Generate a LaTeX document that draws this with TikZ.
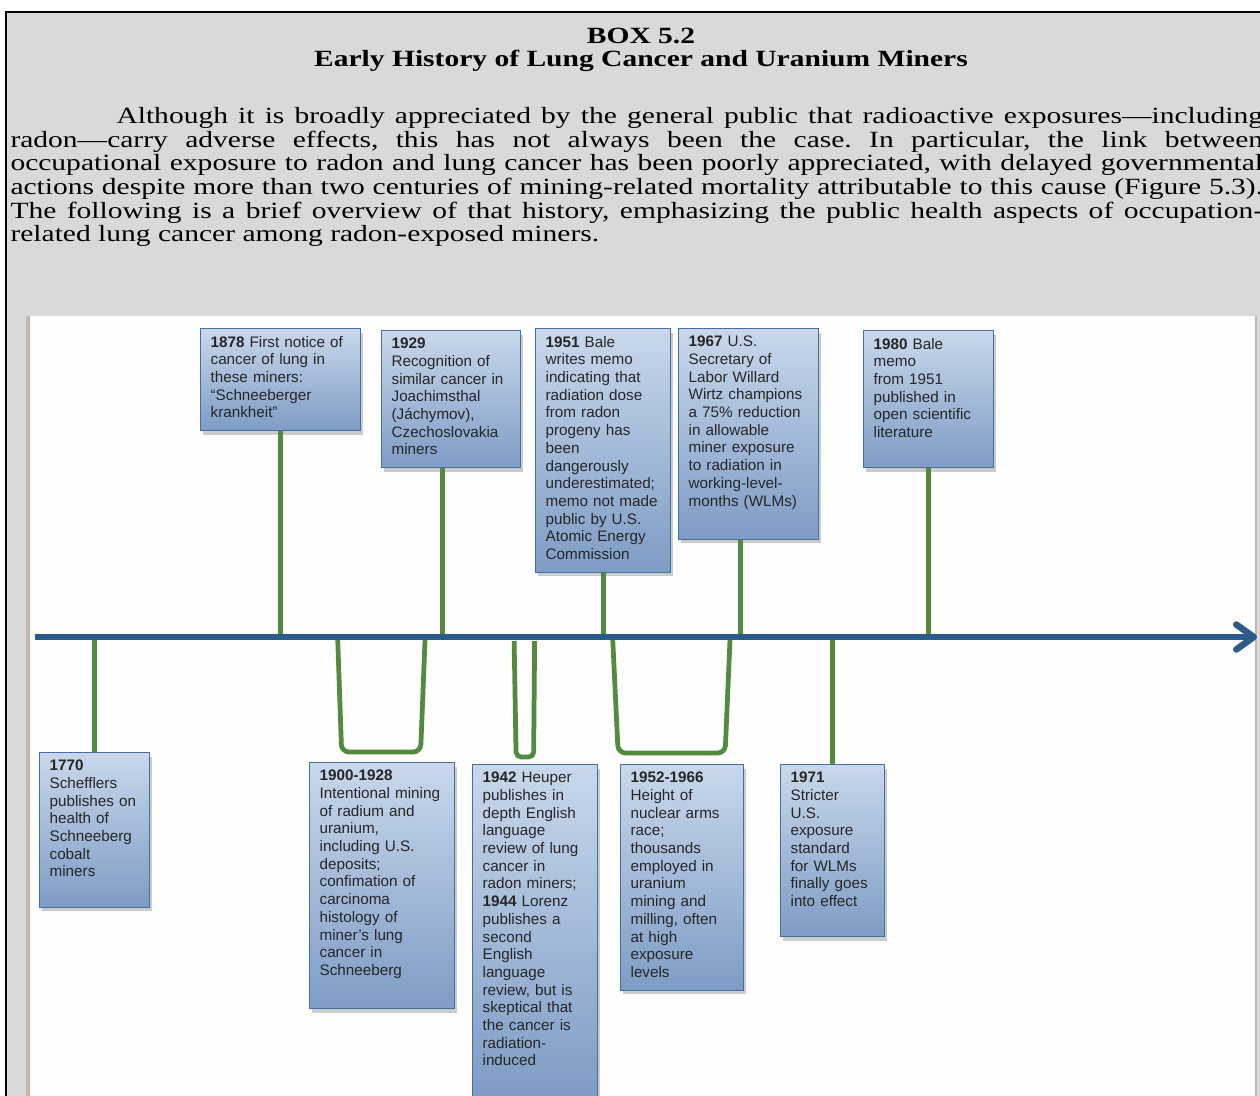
\documentclass[tikz,border=0pt]{standalone}
\usepackage{fontspec}
\setmainfont{Liberation Serif}[FakeStretch=1.27]
\newfontfamily\evtfont{Liberation Sans}[WordSpace=0.6]
\usepackage{tikz}
\usetikzlibrary{arrows.meta,calc,shadows}
\definecolor{boxgray}{HTML}{D9D9D9}
\definecolor{panelwhite}{HTML}{FDFDFD}
\definecolor{paneledge}{HTML}{C4B8AC}
\definecolor{axisblue}{HTML}{2A5B8A}
\definecolor{stemgreen}{HTML}{528A3E}
\definecolor{evttop}{HTML}{C9D8EC}
\definecolor{evtbot}{HTML}{7E9CC5}
\definecolor{evtline}{HTML}{44709F}
\frenchspacing

\tikzset{
  ttl/.style={font=\fontsize{9.3pt}{10pt}\selectfont\bfseries, anchor=base},
  intro/.style={anchor=north west, inner sep=0pt, text width=501pt, align=justify,
    font=\fontsize{9.3pt}{9.44pt}\selectfont},
  evt/.style={draw=evtline, line width=0.5pt, top color=evttop, bottom color=evtbot,
    anchor=north west, inner xsep=4pt, inner ysep=3pt, align=left, text=black!85,
    font=\evtfont\fontsize{6.1pt}{7.08pt}\selectfont,
    execute at end node={\par\vskip#1\hrule height 0pt},
    drop shadow={shadow xshift=0.8pt, shadow yshift=-1.6pt, opacity=0.4}},
  evt/.default=2pt,
  stem/.style={draw=stemgreen, line width=1.9pt},
  axis/.style={draw=axisblue, line width=2.6pt, -{Straight Barb[length=7pt,width=10pt,round]}}
}

\begin{document}
\begin{tikzpicture}[x=0.4pt,y=-0.4pt]
  % Page and box
  \clip (0,0) rectangle (1260,1095);
  \fill[white] (0,0) rectangle (1260,1095);
  \draw[fill=boxgray, line width=0.9pt] (6,12) rectangle (1272,1120);
  % Heading
  \node[ttl] (boxno) at (641,43) {BOX 5.2};
  \node[ttl] (boxtitle) at (641,66) {Early History of Lung Cancer and Uranium Miners};
  % Introduction
  \node[intro] (intro) at (10,107) {\hspace*{42.4pt}Although it is broadly appreciated by the general public that radioactive exposures—including\linebreak
    radon—carry adverse effects, this has not always been the case. In particular, the link between\linebreak
    occupational exposure to radon and lung cancer has been poorly appreciated, with delayed governmental\linebreak
    actions despite more than two centuries of mining-related mortality attributable to this cause (Figure 5.3).\linebreak
    The following is a brief overview of that history, emphasizing the public health aspects of occupation-\linebreak
    related lung cancer among radon-exposed miners.};
  % Figure panel
  \fill[panelwhite] (26,316) rectangle (1256,1120);
  \fill[paneledge] (26,316) rectangle (29.5,1120);
  \draw[gray!55, line width=0.6pt] (1256,316) -- (1256,1120);
  \coordinate (axL) at (35,637);
  \coordinate (axR) at (1257,637);

  % Events above the axis
  \node[evt, text width=56pt] (b1878) at (200,328)
    {\textbf{1878} First notice of\\cancer of lung in\\these miners:\\“Schneeberger\\krankheit”};
  \node[evt, text width=47.6pt] (b1929) at (381,330)
    {\textbf{1929}\\Recognition of\\similar cancer in\\Joachimsthal\\(Jáchymov),\\Czechoslovakia\\miners};
  \node[evt, text width=46pt] (b1951) at (535,328)
    {\textbf{1951} Bale\\writes memo\\indicating that\\radiation dose\\from radon\\progeny has\\been\\dangerously\\underestimated;\\memo not made\\public by U.S.\\Atomic Energy\\Commission};
  \node[evt=9pt, text width=48pt] (b1967) at (678,328)
    {\textbf{1967} U.S.\\Secretary of\\Labor Willard\\Wirtz champions\\a 75\% reduction\\in allowable\\miner exposure\\to radiation in\\working-level-\\months (WLMs)};
  \node[evt=9pt, text width=44pt] (b1980) at (863,330)
    {\textbf{1980} Bale\\memo\\from 1951\\published in\\open scientific\\literature};

  % Events below the axis
  \node[evt=9pt, text width=36pt] (b1770) at (39,752)
    {\textbf{1770}\\Schefflers\\publishes on\\health of\\Schneeberg\\cobalt\\miners};
  \node[evt=9pt, text width=50pt] (b1900) at (309,762)
    {\textbf{1900-1928}\\Intentional mining\\of radium and\\uranium,\\including U.S.\\deposits;\\confimation of\\carcinoma\\histology of\\miner’s lung\\cancer in\\Schneeberg};
  \node[evt=9pt, text width=42pt] (b1942) at (472,764)
    {\textbf{1942} Heuper\\publishes in\\depth English\\language\\review of lung\\cancer in\\radon miners;\\\textbf{1944} Lorenz\\publishes a\\second\\English\\language\\review, but is\\skeptical that\\the cancer is\\radiation-\\induced};
  \node[evt, text width=41.2pt] (b1952) at (620,764)
    {\textbf{1952-1966}\\Height of\\nuclear arms\\race;\\thousands\\employed in\\uranium\\mining and\\milling, often\\at high\\exposure\\levels};
  \node[evt=9pt, text width=33.6pt] (b1971) at (780,764)
    {\textbf{1971}\\Stricter\\U.S.\\exposure\\standard\\for WLMs\\finally goes\\into effect};

  % Stems
  \foreach \b in {b1878,b1951,b1980}
    \draw[stem] (\b.south) -- (\b.south |- axL);
  \draw[stem] ($(b1929.south)+(-9,0)$) -- ($(b1929.south |- axL)+(-9,0)$);
  \draw[stem] ($(b1967.south)+(-8,0)$) -- ($(b1967.south |- axL)+(-8,0)$);
  \foreach \b in {b1770,b1971}
    \draw[stem] (\b.north) -- (\b.north |- axL);

  % Brackets for periods
  \draw[stem, rounded corners=3pt] ($(b1900.north |- axL)+(-44.5,0)$) -- ($(b1900.north)+(-40.5,-10)$)
    -- ($(b1900.north)+(38.5,-10)$) -- ($(b1900.north |- axL)+(43,0)$);
  \draw[stem, rounded corners=2pt] ($(b1942.north |- axL)+(-21,4)$) -- ($(b1942.north)+(-19,-7)$)
    -- ($(b1942.north)+(-1.5,-7)$) -- ($(b1942.north |- axL)+(-0.5,4)$);
  \draw[stem, rounded corners=3pt] ($(b1952.north |- axL)+(-69.5,0)$) -- ($(b1952.north)+(-64,-11)$)
    -- ($(b1952.north)+(43,-11)$) -- ($(b1952.north |- axL)+(48,0)$);

  % Axis
  \draw[axis] (axL) -- (axR);
\end{tikzpicture}
\end{document}
